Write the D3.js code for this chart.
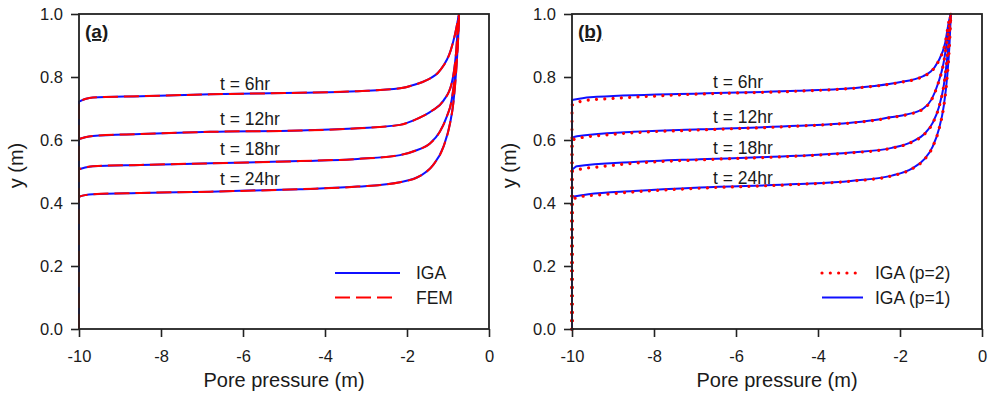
<!DOCTYPE html>
<html>
<head>
<meta charset="utf-8">
<script src="https://cdn.jsdelivr.net/npm/d3@7"></script>
<style>
body { margin: 0; background: #fff; }
text { font-family: Arial, "Liberation Sans", sans-serif; fill: #1a1a1a; }
</style>
</head>
<body>
<svg width="989" height="396"></svg>
<script>
// tick values and curve labels
var xTicks = [-10, -8, -6, -4, -2, 0];
var yTicks = [0, 0.2, 0.4, 0.6, 0.8, 1.0];
var times = ['t = 6hr', 't = 12hr', 't = 18hr', 't = 24hr'];

// panel (a): IGA and FEM coincide at this scale, [pressure, y]
var igaA6  = [[-10,0],[-10,0.722],[-9.85,0.730],[-9.66,0.735],[-8.5,0.739],[-6.8,0.745],[-4.61,0.750],[-3.2,0.755],[-2.17,0.764],[-1.8,0.776],[-1.52,0.790],[-1.2,0.820],[-0.93,0.886],[-0.83,0.935],[-0.76,0.980],[-0.73,1.0]];
var igaA12 = [[-10,0],[-10,0.603],[-9.85,0.609],[-9.66,0.613],[-8.5,0.619],[-6.8,0.626],[-4.61,0.630],[-3.2,0.637],[-2.17,0.648],[-1.77,0.666],[-1.4,0.692],[-1.11,0.725],[-0.91,0.780],[-0.805,0.875],[-0.75,0.975],[-0.73,1.0]];
var igaA18 = [[-10,0],[-10,0.507],[-9.85,0.513],[-9.66,0.517],[-8.5,0.521],[-6.8,0.526],[-4.61,0.533],[-3.2,0.540],[-2.17,0.552],[-1.8,0.566],[-1.44,0.589],[-1.2,0.626],[-1.03,0.674],[-0.91,0.727],[-0.82,0.820],[-0.76,0.920],[-0.73,1.0]];
var igaA24 = [[-10,0],[-10,0.420],[-9.85,0.425],[-9.66,0.428],[-8.5,0.432],[-6.8,0.436],[-4.61,0.444],[-3.2,0.452],[-2.17,0.466],[-1.68,0.486],[-1.36,0.521],[-1.11,0.579],[-0.95,0.653],[-0.87,0.717],[-0.8,0.820],[-0.75,0.930],[-0.73,1.0]];
var femA6 = igaA6, femA12 = igaA12, femA18 = igaA18, femA24 = igaA24;

// panel (b): p=1 (blue) and p=2 (red dots)
var p1B6  = [[-10,0],[-10,0.727],[-9.56,0.736],[-6.88,0.748],[-4.5,0.756],[-2.98,0.767],[-2.08,0.782],[-1.43,0.803],[-1.07,0.849],[-0.9,0.907],[-0.8,0.981],[-0.76,1.0]];
var p1B12 = [[-10,0],[-10,0.607],[-9.88,0.612],[-8.5,0.626],[-6.88,0.634],[-4.5,0.645],[-3.2,0.655],[-2.49,0.666],[-2.24,0.672],[-1.84,0.681],[-1.43,0.700],[-1.23,0.729],[-1.07,0.780],[-0.94,0.843],[-0.85,0.917],[-0.78,0.980],[-0.76,1.0]];
var p1B18 = [[-10,0],[-10,0.505],[-9.88,0.517],[-8.5,0.530],[-6.88,0.539],[-4.5,0.550],[-3.2,0.560],[-2.2,0.575],[-1.7,0.595],[-1.4,0.620],[-1.2,0.655],[-1.05,0.705],[-0.93,0.775],[-0.85,0.860],[-0.79,0.950],[-0.76,1.0]];
var p1B24 = [[-10,0],[-10,0.420],[-9.6,0.428],[-8.5,0.438],[-6.88,0.449],[-4.5,0.460],[-3.2,0.470],[-2.2,0.487],[-1.7,0.510],[-1.4,0.540],[-1.2,0.580],[-1.05,0.635],[-0.93,0.710],[-0.85,0.800],[-0.79,0.910],[-0.76,1.0]];
var p2B6  = [[-10,0],[-10,0.711],[-9.8,0.722],[-9.56,0.727],[-9.37,0.729],[-8.75,0.734],[-6.88,0.746],[-4.5,0.755],[-2.98,0.766],[-2.08,0.781],[-1.43,0.802],[-1.07,0.848],[-0.9,0.906],[-0.8,0.980],[-0.76,1.0]];
var p2B12 = [[-10,0],[-10,0.600],[-9.75,0.608],[-9.4,0.613],[-8.5,0.623],[-6.88,0.632],[-4.5,0.644],[-3.2,0.654],[-2.49,0.665],[-2.24,0.671],[-1.84,0.680],[-1.43,0.699],[-1.23,0.728],[-1.07,0.779],[-0.94,0.842],[-0.85,0.916],[-0.78,0.980],[-0.76,1.0]];
var p2B18 = [[-10,0],[-10,0.500],[-9.75,0.509],[-9.4,0.514],[-8.5,0.526],[-6.88,0.537],[-4.5,0.549],[-3.2,0.559],[-2.2,0.574],[-1.7,0.594],[-1.4,0.619],[-1.2,0.654],[-1.05,0.704],[-0.93,0.774],[-0.85,0.859],[-0.79,0.950],[-0.76,1.0]];
var p2B24 = [[-10,0],[-10,0.412],[-9.75,0.421],[-9.4,0.425],[-8.5,0.435],[-6.88,0.447],[-4.5,0.459],[-3.2,0.469],[-2.2,0.486],[-1.7,0.509],[-1.4,0.539],[-1.2,0.579],[-1.05,0.634],[-0.93,0.709],[-0.85,0.799],[-0.79,0.910],[-0.76,1.0]];

var blue = '#1010ff', red = '#ff0000';

var svg = d3.select('svg');
var plotW = 410, plotH = 315, plotTop = 14;

var panels = [
    {left: 79, tag: '(a)', labelDy: 0,
     series: [
        {name: 'IGA', data: [igaA6, igaA12, igaA18, igaA24], color: blue, dash: null, width: 2},
        {name: 'FEM', data: [femA6, femA12, femA18, femA24], color: red, dash: '15,6', width: 2}
     ],
     legend: [0, 1], legendX: 335, legendLen: [65, 58], legendText: 416},
    {left: 572, tag: '(b)', labelDy: -1.5,
     series: [
        {name: 'IGA (p=1)', data: [p1B6, p1B12, p1B18, p1B24], color: blue, dash: null, width: 2},
        {name: 'IGA (p=2)', data: [p2B6, p2B12, p2B18, p2B24], color: red, dash: '0.01,8.3', width: 3.2, round: true}
     ],
     legend: [1, 0], legendX: 822, legendLen: [37, 41], legendText: 875}
];

// where the time labels sit (data units)
var labelX = -6.56;
var labelY = [0.759, 0.648, 0.552, 0.456];

panels.forEach(function(p) {
    var g = svg.append('g').attr('transform', 'translate(' + [p.left, plotTop] + ')');
    var x = d3.scaleLinear().domain([-10, 0]).range([0, plotW]);
    var y = d3.scaleLinear().domain([0, 1]).range([plotH, 0]);

    // vertical run at -10 first, then a smooth monotone curve for the rest
    var line = d3.line().x(function(d) { return x(d[0]); }).y(function(d) { return y(d[1]); })
        .curve(d3.curveMonotoneX);
    function curvePath(d) {
        return 'M' + x(d[0][0]) + ',' + y(d[0][1]) + 'L' + line(d.slice(1)).slice(1);
    }

    p.series.forEach(function(s) {
        g.selectAll(null).data(s.data).enter().append('path')
            .attr('d', curvePath)
            .attr('fill', 'none')
            .attr('stroke', s.color)
            .attr('stroke-width', s.width)
            .attr('stroke-dasharray', s.dash)
            .attr('stroke-linecap', s.round ? 'round' : 'butt');
    });

    // frame
    g.append('rect').attr('width', plotW).attr('height', plotH)
        .attr('fill', 'none').attr('stroke', '#222').attr('stroke-width', 1.8);

    var xAxis = d3.axisBottom(x).tickValues(xTicks).tickFormat(function(d) { return String(d); })
        .tickSize(8).tickSizeOuter(0).tickPadding(13);
    var yAxis = d3.axisLeft(y).tickValues(yTicks).tickFormat(d3.format('.1f'))
        .tickSize(8).tickSizeOuter(0).tickPadding(8);

    var xg = g.append('g').attr('transform', 'translate(0,' + plotH + ')').call(xAxis);
    var yg = g.append('g').call(yAxis);
    [xg, yg].forEach(function(a) {
        a.select('.domain').remove();
        a.selectAll('line').attr('stroke', '#222').attr('stroke-width', 1.6);
        a.selectAll('text').style('font-size', '16.5px').attr('fill', '#1a1a1a');
    });

    g.append('text').attr('x', plotW / 2).attr('y', 373)
        .attr('text-anchor', 'middle').style('font-size', '20px').text('Pore pressure (m)');
    g.append('text').attr('transform', 'translate(-56,' + (plotH / 2 - 6) + ') rotate(-90)')
        .attr('text-anchor', 'middle').style('font-size', '20px').text('y (m)');

    g.append('text').attr('x', 6).attr('y', 24).style('font-size', '19px')
        .style('font-weight', 'bold').style('text-decoration', 'underline').text(p.tag);

    g.selectAll('.tlabel').data(times).enter().append('text')
        .attr('class', 'tlabel')
        .attr('x', x(labelX))
        .attr('y', function(d, i) { return y(labelY[i]) + p.labelDy; })
        .style('font-size', '17.5px')
        .text(function(d) { return d; });

    // legend
    p.legend.forEach(function(si, row) {
        var s = p.series[si];
        var ly = 259 + row * 24.5;
        var lx = p.legendX - p.left;
        g.append('line').attr('x1', lx).attr('x2', lx + p.legendLen[row])
            .attr('y1', ly).attr('y2', ly)
            .attr('stroke', s.color).attr('stroke-width', s.width)
            .attr('stroke-dasharray', s.dash)
            .attr('stroke-linecap', s.round ? 'round' : 'butt');
        g.append('text').attr('x', p.legendText - p.left).attr('y', ly + 6.3)
            .style('font-size', '17.5px').text(s.name);
    });
});
</script>
</body>
</html>
